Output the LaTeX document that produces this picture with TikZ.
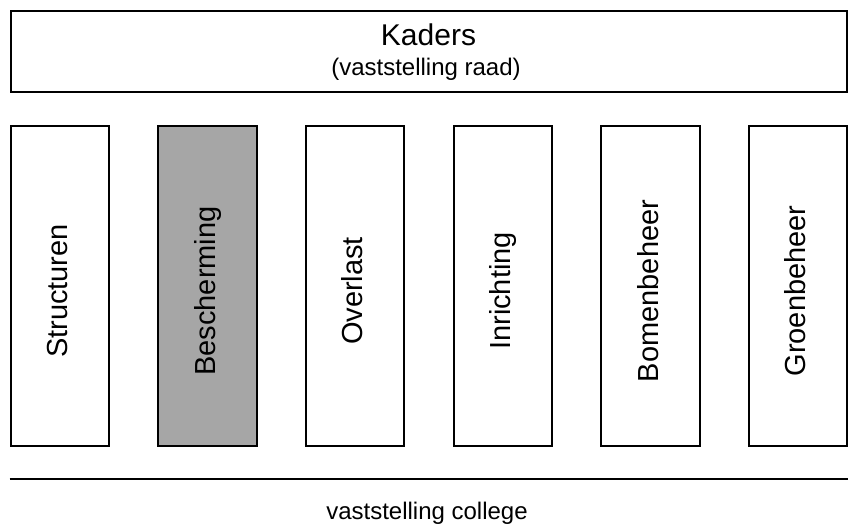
\documentclass[tikz,border=0pt]{standalone}
\usepackage{fontspec}
\setmainfont{Liberation Sans}
\definecolor{grijs}{HTML}{A6A6A6}

\begin{document}
\begin{tikzpicture}[x=1pt,y=-1pt,
                    line width=2pt]
    \tikzstyle{kader}=[draw,inner sep=0pt,anchor=north west]
    \tikzstyle{kolom}=[kader,minimum width=98.5pt,minimum height=320pt]
    \tikzstyle{kolomtekst}=[anchor=base,rotate=90,inner sep=0pt,font=\fontsize{29}{34}\selectfont]

    \useasboundingbox (0,0) rectangle (848,527);

    % kaders bovenaan
    \node[kader,minimum width=836pt,minimum height=80.5pt] (kaders) at (9.7,10) {};
    \node[anchor=base,inner sep=0pt,font=\fontsize{30}{36}\selectfont] (titel) at (428.5,46) {Kaders};
    \node[anchor=base,inner sep=0pt,font=\fontsize{24}{29}\selectfont] (raad) at (426,75) {(vaststelling raad)};

    % de zes kolommen
    \foreach \lbl/\kleur [count=\i] in {Structuren/white,Bescherming/grijs,Overlast/white,
                                        Inrichting/white,Bomenbeheer/white,Groenbeheer/white}
    {
        \node[kolom,fill=\kleur] (kolom\i) at ({9.7+(\i-1)*147.6},125) {};
        \node[kolomtekst] (tekst\i) at ({9.7+(\i-1)*147.6+49.25+8.7},291) {\lbl};
    }

    % lijn en college
    \coordinate (lijnA) at (9.7,479);
    \coordinate (lijnB) at (848,479);
    \draw (lijnA) -- (lijnB);
    \node[anchor=base,inner sep=0pt,font=\fontsize{24}{29}\selectfont] (college) at (427,519) {vaststelling college};
\end{tikzpicture}
\end{document}
